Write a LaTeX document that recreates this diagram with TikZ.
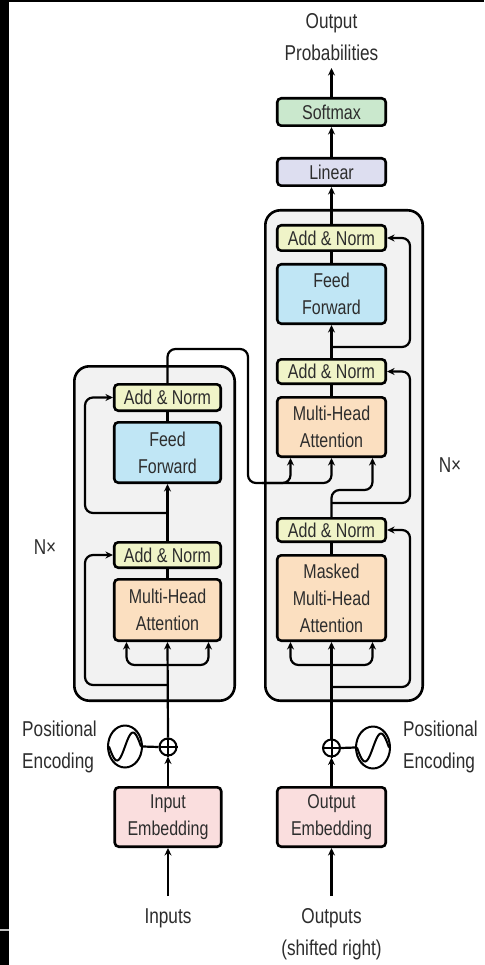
\documentclass[tikz,border=0pt]{standalone}
\usepackage{fontspec}
\setmainfont{Liberation Sans}[FakeStretch=0.8]
\usetikzlibrary{arrows.meta,shapes.geometric}
\definecolor{cSoft}{RGB}{202,232,205}
\definecolor{cLin}{RGB}{221,222,240}
\definecolor{cAdd}{RGB}{240,244,200}
\definecolor{cFF}{RGB}{192,230,245}
\definecolor{cMHA}{RGB}{251,223,192}
\definecolor{cEmb}{RGB}{250,222,222}
\definecolor{cBig}{RGB}{242,242,242}
\definecolor{cTxt}{RGB}{45,45,45}
\begin{document}
\begin{tikzpicture}[x=1pt,y=-1pt,
  blk/.style={draw=black, line width=2.6pt, rounded corners=4pt, inner sep=0pt, align=center,
    font=\fontsize{20}{27}\selectfont, text=cTxt},
  eblk/.style={blk, minimum width=106.5pt},
  dblk/.style={blk, minimum width=108.5pt},
  bigbox/.style={draw=black, fill=cBig, line width=2.6pt, rounded corners=15pt, inner sep=0pt},
  con/.style={line width=2.2pt, rounded corners=8pt},
  arr/.style={con, -{Stealth[length=7.5pt,width=7pt]}},
  lbl/.style={font=\fontsize{21.5}{32}\selectfont, text=cTxt, inner sep=0pt, align=center},
  ring/.style={circle, draw=black, line width=2pt, inner sep=0pt, fill=white},
  pering/.style={ellipse, draw=black, line width=2pt, inner sep=0pt, fill=white, minimum width=34pt, minimum height=42pt},
]
\useasboundingbox (0,0) rectangle (484,965);
\fill[white] (0,0) rectangle (484,965);
\fill[black] (0,0) rectangle (9,965);
\fill[black] (0,0) rectangle (484,2);
\fill[black!25] (0,928.5) rectangle (9,931);

% big boxes
\node[bigbox, minimum width=160.4pt, minimum height=334.4pt] (encBox) at (154.5,533.5) {};
\node[bigbox, minimum width=157.4pt, minimum height=490.4pt] (decBox) at (344,455.5) {};

% encoder blocks
\node[eblk, fill=cAdd, minimum height=26.4pt] (encA2) at (167.5,397.5) {Add \& Norm};
\node[eblk, fill=cFF, minimum height=60.4pt] (encFF) at (167.5,452.5) {Feed\\Forward};
\node[eblk, fill=cAdd, minimum height=25.4pt] (encA1) at (167.5,555) {Add \& Norm};
\node[eblk, fill=cMHA, minimum height=61.4pt] (encMHA) at (167.5,610) {Multi-Head\\Attention};
\node[eblk, fill=cEmb, minimum height=59.4pt] (inEmb) at (168,817) {Input\\Embedding};

% decoder blocks
\node[dblk, fill=cSoft, minimum height=27.4pt] (softmax) at (331.5,112) {Softmax};
\node[dblk, fill=cLin, minimum height=27.4pt] (linear) at (331.5,172) {Linear};
\node[dblk, fill=cAdd, minimum height=25.4pt] (decA3) at (331.5,238) {Add \& Norm};
\node[dblk, fill=cFF, minimum height=59.4pt] (decFF) at (331.5,294) {Feed\\Forward};
\node[dblk, fill=cAdd, minimum height=24.4pt] (decA2) at (331.5,371.5) {Add \& Norm};
\node[dblk, fill=cMHA, minimum height=59.4pt] (decMHA) at (331.5,427) {Multi-Head\\Attention};
\node[dblk, fill=cAdd, minimum height=23.4pt] (decA1) at (331.5,530) {Add \& Norm};
\node[dblk, fill=cMHA, minimum height=85.4pt] (decMMHA) at (331.5,598) {Masked\\Multi-Head\\Attention};
\node[dblk, fill=cEmb, minimum height=59.4pt] (outEmb) at (331.5,817) {Output\\Embedding};

% labels
\node[lbl] (outprob) at (331.5,37) {Output\\Probabilities};
\node[lbl] (inputs) at (168,918) {Inputs};
\node[lbl] (outputs) at (331.5,934) {Outputs\\(shifted right)};
\node[lbl] (nxL) at (45,547) {N×};
\node[lbl] (nxR) at (450,465) {N×};
\node[lbl, anchor=east, align=left] (peL) at (97,747) {Positional\\Encoding};
\node[lbl, anchor=west, align=left] (peR) at (403,747) {Positional\\Encoding};

% positional encoding symbols
\node[pering] (encPE) at (125,746.5) {};
\node[ring, minimum size=17pt] (encPlus) at (168,747) {};
\node[pering] (decPE) at (373,747.5) {};
\node[ring, minimum size=17pt] (decPlus) at (331.5,748) {};
\draw[line width=2pt] (encPlus.north) -- (encPlus.south) (encPlus.west) -- (encPlus.east);
\draw[line width=2pt] (decPlus.north) -- (decPlus.south) (decPlus.west) -- (decPlus.east);
\draw[line width=2pt] plot[domain=-16:16, samples=40, smooth] ({125+\x}, {746.5-14*sin(\x/16*180)});
\draw[line width=2pt] plot[domain=-16:16, samples=40, smooth] ({373+\x}, {747.5-14*sin(\x/16*180)});
\draw[line width=2.2pt] (encPE.east) -- (encPlus.west);
\draw[line width=2.2pt] (decPlus.east) -- (decPE.west);

% helper coordinates
\coordinate (resL) at (85,0);
\coordinate (resR) at (410,0);
\coordinate (inStart) at (168,896);
\coordinate (outStart) at (331.5,896);
\coordinate (probEnd) at (331.5,68);
\coordinate (eb1) at (168,665);
\coordinate (eb2) at (168,685);
\coordinate (eb3) at (167.5,513);
\coordinate (db1) at (331.5,665);
\coordinate (db2) at (331.5,687);
\coordinate (db3) at (331.5,490);
\coordinate (db4) at (331.5,503);
\coordinate (db5) at (331.5,347);
\coordinate (eo1) at (167.5,349);
\coordinate (eo2) at (248,349);
\coordinate (eo3) at (248,483);
\coordinate (eo4) at (262,483);

% encoder connectors
\draw[arr] (inStart) -- (inEmb.south);
\draw[arr] (inEmb.north) -- (encPlus.south);
\draw[arr] (encPlus.north) -- (encMHA.south);
\draw[arr] (eb1) -| ([xshift=-41pt]encMHA.south);
\draw[arr] (eb1) -| ([xshift=41pt]encMHA.south);
\draw[arr] (eb2) -| (resL |- encA1.west) -- (encA1.west);
\draw[con] (encMHA.north) -- (encA1.south);
\draw[arr] (encA1.north) -- (encFF.south);
\draw[arr] (eb3) -| (resL |- encA2.west) -- (encA2.west);
\draw[con] (encFF.north) -- (encA2.south);
\draw[arr] (encA2.north) -- (eo1) -- (eo2) -- (eo3) -| ([xshift=-41pt]decMHA.south);
\draw[arr] (eo4) -| (decMHA.south);

% decoder connectors
\draw[arr] (outStart) -- (outEmb.south);
\draw[arr] (outEmb.north) -- (decPlus.south);
\draw[arr] (decPlus.north) -- (decMMHA.south);
\draw[arr] (db1) -| ([xshift=-41pt]decMMHA.south);
\draw[arr] (db1) -| ([xshift=41pt]decMMHA.south);
\draw[arr] (db2) -| (resR |- decA1.east) -- (decA1.east);
\draw[con] (decMMHA.north) -- (decA1.south);
\draw[arr] (decA1.north) -- (db3) -| ([xshift=41pt]decMHA.south);
\draw[arr] (db4) -| (resR |- decA2.east) -- (decA2.east);
\draw[con] (decMHA.north) -- (decA2.south);
\draw[arr] (decA2.north) -- (decFF.south);
\draw[arr] (db5) -| (resR |- decA3.east) -- (decA3.east);
\draw[con] (decFF.north) -- (decA3.south);
\draw[arr] (decA3.north) -- (linear.south);
\draw[arr] (linear.north) -- (softmax.south);
\draw[arr] (softmax.north) -- (probEnd);
\end{tikzpicture}
\end{document}
